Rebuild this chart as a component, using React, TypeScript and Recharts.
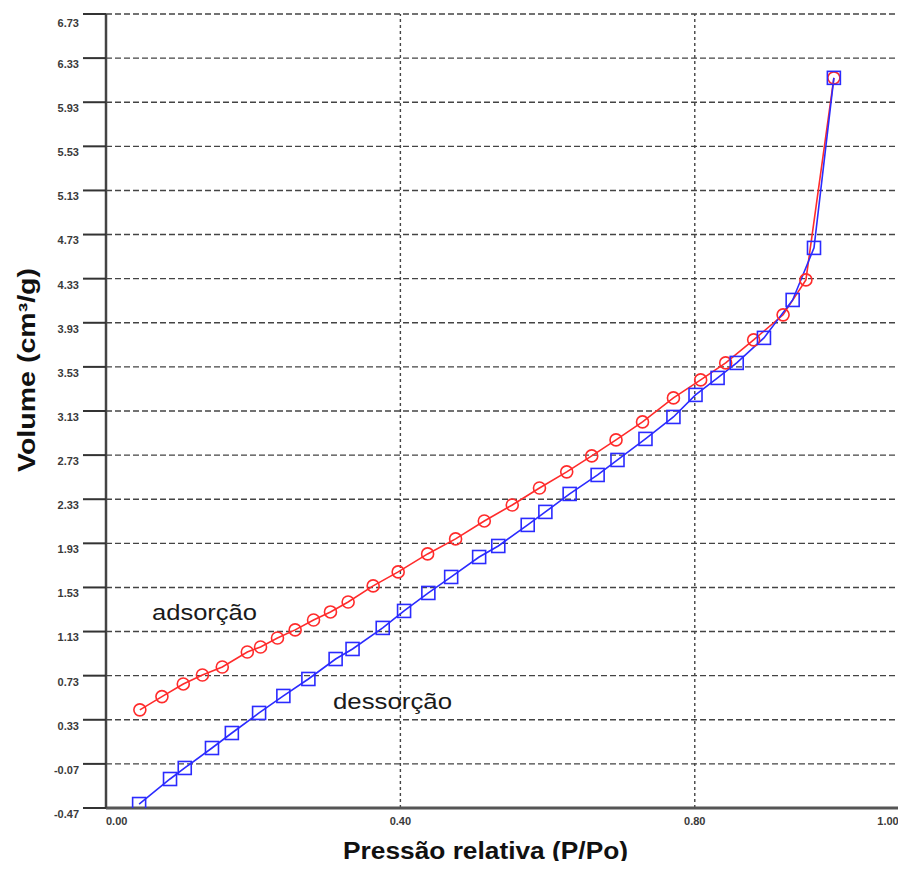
import React from 'react';
import { LineChart, Line, XAxis, YAxis, CartesianGrid, ReferenceLine } from 'recharts';

// adsorção (red circles)
const adsX = [0.046, 0.076, 0.105, 0.131, 0.158, 0.192, 0.21, 0.233, 0.257, 0.282, 0.305, 0.329, 0.363, 0.397, 0.437, 0.475, 0.514, 0.552, 0.589, 0.626, 0.66, 0.693, 0.729, 0.771, 0.808, 0.842, 0.88, 0.92, 0.951, 0.989];
const adsY = [0.42, 0.54, 0.655, 0.736, 0.809, 0.945, 0.99, 1.072, 1.145, 1.235, 1.308, 1.398, 1.544, 1.671, 1.834, 1.97, 2.133, 2.278, 2.432, 2.578, 2.723, 2.868, 3.031, 3.249, 3.412, 3.566, 3.775, 4.002, 4.319, 6.151];

// dessorção (blue squares)
const desX = [0.045, 0.087, 0.107, 0.144, 0.171, 0.208, 0.241, 0.275, 0.312, 0.335, 0.376, 0.405, 0.438, 0.469, 0.507, 0.533, 0.573, 0.597, 0.63, 0.668, 0.695, 0.733, 0.771, 0.801, 0.831, 0.857, 0.894, 0.933, 0.962, 0.989];
const desY = [-0.434, -0.207, -0.107, 0.074, 0.21, 0.392, 0.546, 0.7, 0.881, 0.972, 1.163, 1.317, 1.48, 1.625, 1.806, 1.906, 2.097, 2.215, 2.378, 2.55, 2.686, 2.877, 3.076, 3.276, 3.43, 3.566, 3.793, 4.137, 4.609, 6.151];

const yTicks = [-0.47, -0.07, 0.33, 0.73, 1.13, 1.53, 1.93, 2.33, 2.73, 3.13, 3.53, 3.93, 4.33, 4.73, 5.13, 5.53, 5.93, 6.33, 6.73];
const xMax = 1.087;
const xTicks = [0, 0.4, 0.8, xMax];
const xGrid = [0.4, 0.8];

const adsorcao = adsX.map((x, i) => ({ x, y: adsY[i] }));
const dessorcao = desX.map((x, i) => ({ x, y: desY[i] }));

const FONT = '"Liberation Sans", Arial, sans-serif';

const YTick = ({ x, y, payload }: any) => (
  <text x={x} y={y + 6} dy="0.35em" textAnchor="end" fontSize={11} fontWeight="bold" fill="#3a3a3a" fontFamily={FONT}>
    {Number(payload.value).toFixed(2)}
  </text>
);

const XTick = ({ x, y, payload, index }: any) => {
  const v = Number(payload.value);
  const anchor = index === 0 ? 'start' : 'middle';
  return (
    <text x={x} y={y} dy="0.35em" textAnchor={anchor} fontSize={11} fontWeight="bold" fill="#3a3a3a" fontFamily={FONT}>
      {v > 1 ? '1.00' : v.toFixed(2)}
    </text>
  );
};

const renderSquare = (props: any) => {
  const { cx, cy, index } = props;
  if (cx == null || cy == null) return <g key={`sq-${index}`} />;
  return (
    <rect key={`sq-${index}`} x={cx - 6.5} y={cy - 6.5} width={13} height={13}
      fill="none" stroke="#2b2bff" strokeWidth={1.6} />
  );
};

const App: React.FC = () => {
  return (
    <div style={{ position: 'relative', width: 898, height: 861, marginBottom: -8 }}>
      <LineChart width={898} height={861} margin={{ top: 6, right: 0, bottom: 0, left: 0 }}>
        <CartesianGrid vertical={false} stroke="#444" strokeDasharray="6 3" strokeWidth={1.4} />
        {xGrid.map(v => (
          <ReferenceLine key={v} x={v} stroke="#444" strokeDasharray="3 3" strokeWidth={1.4} />
        ))}
        <XAxis
          type="number"
          dataKey="x"
          domain={[0, xMax]}
          ticks={xTicks}
          allowDataOverflow
          height={61}
          tickSize={0}
          tickMargin={13}
          tick={<XTick />}
          axisLine={{ stroke: '#555', strokeWidth: 3 }}
        />
        <YAxis
          type="number"
          dataKey="y"
          domain={[-0.47, 6.73]}
          ticks={yTicks}
          allowDataOverflow
          width={98}
          tickSize={23}
          tickMargin={4}
          tick={<YTick />}
          tickLine={{ stroke: '#333', strokeWidth: 2 }}
          axisLine={{ stroke: '#444', strokeWidth: 2.5 }}
        />
        <Line
          data={adsorcao}
          dataKey="y"
          type="linear"
          stroke="#ff2b2b"
          strokeWidth={1.6}
          dot={{ r: 6, fill: 'none', stroke: '#ff2b2b', strokeWidth: 1.6 }}
          isAnimationActive={false}
        />
        <Line
          data={dessorcao}
          dataKey="y"
          type="linear"
          stroke="#2b2bff"
          strokeWidth={1.6}
          dot={renderSquare}
          isAnimationActive={false}
        />
      </LineChart>
      <svg width={898} height={861} style={{ position: 'absolute', left: 0, top: 0, pointerEvents: 'none' }}>
        <text x={144} y={612} fontSize={22} fill="#1a1a1a" fontFamily={FONT} textLength={105} lengthAdjust="spacingAndGlyphs">adsorção</text>
        <text x={325} y={701} fontSize={22} fill="#1a1a1a" fontFamily={FONT} textLength={119} lengthAdjust="spacingAndGlyphs">dessorção</text>
        <text x={335} y={851} fontSize={23} fontWeight="bold" fill="#111" fontFamily={FONT} textLength={285} lengthAdjust="spacingAndGlyphs">Pressão relativa (P/Po)</text>
        <text transform="translate(27, 464) rotate(-90)" x={0} y={0} fontSize={23} fontWeight="bold" fill="#111" fontFamily={FONT} textLength={204} lengthAdjust="spacingAndGlyphs">Volume (cm³/g)</text>
      </svg>
    </div>
  );
};

export default App;
